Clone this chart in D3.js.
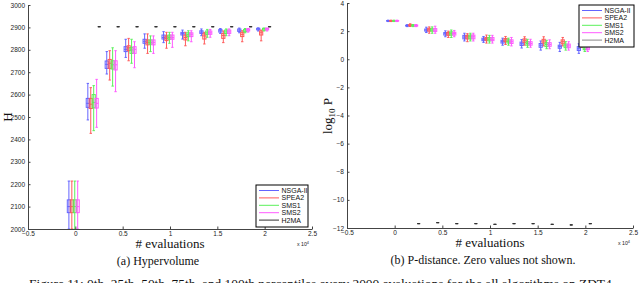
<!DOCTYPE html>
<html><head><meta charset="utf-8">
<script src="https://cdn.jsdelivr.net/npm/d3@7"></script>
<style>
html,body{margin:0;padding:0;background:#fff;}
svg{display:block;}
.tick text{font-family:"Liberation Sans",Arial,sans-serif;font-size:6.5px;fill:#222;}
.serif{font-family:"Liberation Serif","Times New Roman",serif;fill:#111;}
.leg{font-family:"Liberation Sans",Arial,sans-serif;font-size:7px;fill:#111;}
</style></head>
<body>
<svg id="c" width="640" height="283"></svg>
<script>
// ---------- data ----------
const evaluations = [0,2000,4000,6000,8000,10000,12000,14000,16000,18000,20000];
const h2maEvaluations = [2000,4000,6000,8000,10000,12000,14000,16000,18000,20000];
const algorithms = ["NSGA-II","SPEA2","SMS1","SMS2","H2MA"];
const algOffsets = [-680,-370,-60,250,520];
const xTicks = [-0.5,0,0.5,1,1.5,2,2.5];
const hvTicks = [2000,2100,2200,2300,2400,2500,2600,2700,2800,2900,3000];
const pdTicks = [-12,-10,-8,-6,-4,-2,0,2,4];

// five-number summaries [min, q1, median, q3, max]
const hvNSGA = [[2000,2073,2100,2130,2214],[2487,2543,2561,2583,2650],[2692,2717,2735,2750,2792],[2766,2792,2802,2814,2847],[2807,2829,2838,2847,2871],[2832,2848,2855,2866,2881],[2848,2866,2872,2878,2888],[2863,2873,2879,2885,2893],[2873,2879,2885,2891,2895],[2876,2882,2888,2893,2897],[2884,2889,2893,2896,2898]];
const hvSPEA2 = [[2000,2073,2100,2130,2214],[2427,2538,2557,2583,2631],[2665,2717,2740,2757,2796],[2751,2796,2809,2818,2851],[2784,2822,2833,2844,2871],[2807,2841,2851,2862,2878],[2818,2844,2855,2866,2878],[2826,2848,2862,2871,2878],[2832,2851,2864,2873,2884],[2836,2859,2869,2878,2885],[2840,2866,2876,2884,2888]];
const hvSMS1 = [[2000,2073,2100,2130,2214],[2439,2541,2565,2600,2640],[2638,2714,2733,2751,2809],[2740,2784,2799,2810,2847],[2792,2825,2833,2844,2862],[2829,2847,2855,2866,2878],[2840,2859,2869,2876,2885],[2856,2869,2876,2884,2891],[2863,2873,2880,2888,2893],[2876,2881,2888,2891,2895],[2884,2888,2893,2896,2897]];
const hvSMS2 = [[2000,2073,2100,2130,2214],[2454,2540,2561,2583,2668],[2613,2710,2733,2751,2796],[2720,2784,2802,2814,2836],[2784,2822,2833,2844,2862],[2811,2847,2855,2866,2878],[2836,2859,2869,2876,2885],[2856,2869,2876,2884,2891],[2863,2873,2880,2888,2893],[2879,2884,2889,2893,2895],[2884,2889,2893,2896,2897]];
const hvH2MA = [[2903,2903,2903,2903,2903],[2903,2903,2903,2903,2903],[2903,2903,2903,2903,2903],[2903,2903,2903,2903,2903],[2903,2903,2903,2903,2903],[2903,2903,2903,2903,2903],[2903,2903,2903,2903,2903],[2903,2903,2903,2903,2903],[2903,2903,2903,2903,2903],[2903,2903,2903,2903,2903]];

const pdNSGA = [[2.68,2.71,2.73,2.75,2.78],[2.32,2.36,2.39,2.42,2.46],[1.9,2.0,2.08,2.15,2.28],[1.6,1.72,1.82,1.9,2.02],[1.3,1.45,1.58,1.7,1.85],[1.2,1.32,1.42,1.5,1.62],[1.0,1.15,1.25,1.35,1.5],[0.8,0.98,1.1,1.22,1.4],[0.65,0.85,1.0,1.12,1.3],[0.55,0.78,0.9,1.0,1.2],[0.42,0.62,0.75,0.9,1.1]];
const pdSPEA2 = [[2.68,2.71,2.73,2.75,2.78],[2.33,2.38,2.42,2.46,2.52],[1.85,2.0,2.1,2.2,2.3],[1.55,1.7,1.8,1.9,2.0],[1.25,1.45,1.6,1.7,1.82],[1.15,1.35,1.45,1.55,1.72],[1.05,1.25,1.38,1.48,1.62],[1.0,1.2,1.35,1.45,1.6],[0.95,1.15,1.3,1.42,1.6],[0.95,1.1,1.25,1.38,1.55],[0.85,1.0,1.15,1.3,1.45]];
const pdSMS1 = [[2.68,2.71,2.73,2.75,2.78],[2.32,2.36,2.39,2.43,2.47],[1.85,2.0,2.08,2.17,2.3],[1.55,1.72,1.85,1.95,2.08],[1.3,1.45,1.6,1.72,1.85],[1.15,1.3,1.42,1.55,1.7],[1.0,1.15,1.25,1.38,1.5],[0.85,1.0,1.12,1.25,1.42],[0.75,0.9,1.05,1.18,1.35],[0.65,0.82,0.95,1.08,1.25],[0.55,0.68,0.8,0.92,1.1]];
const pdSMS2 = [[2.68,2.71,2.73,2.75,2.78],[2.32,2.36,2.39,2.43,2.47],[1.85,1.98,2.07,2.18,2.35],[1.6,1.72,1.83,1.92,2.05],[1.3,1.45,1.6,1.72,1.85],[1.15,1.32,1.42,1.55,1.7],[0.95,1.12,1.25,1.38,1.55],[0.85,1.0,1.12,1.25,1.42],[0.75,0.92,1.05,1.18,1.38],[0.65,0.82,0.95,1.08,1.25],[0.55,0.68,0.8,0.92,1.1]];
const pdH2MA = [[-11.69,-11.69,-11.69,-11.69,-11.69],[-11.62,-11.62,-11.62,-11.62,-11.62],[-11.69,-11.69,-11.69,-11.69,-11.69],[-11.69,-11.69,-11.69,-11.69,-11.69],[-11.74,-11.74,-11.74,-11.74,-11.74],[-11.69,-11.69,-11.69,-11.69,-11.69],[-11.69,-11.69,-11.69,-11.69,-11.69],[-11.74,-11.74,-11.74,-11.74,-11.74],[-11.78,-11.78,-11.78,-11.78,-11.78],[-11.69,-11.69,-11.69,-11.69,-11.69]];

const colors = ["#6464ff","#ff5a5a","#5af05a","#ff5aff","#333333"];

// ---------- drawing ----------
const svg = d3.select("#c");
const fmt = d3.format("~g");

function panel(cfg){
  const x = d3.scaleLinear().domain([-0.5,2.5]).range(cfg.xr);
  const y = d3.scaleLinear().domain(cfg.yd).range(cfg.yr);
  const g = svg.append("g");

  // boxes
  cfg.series.forEach((ser,a)=>{
    const ev = a===4 ? h2maEvaluations : evaluations;
    const col = colors[a];
    const gg = g.append("g").attr("stroke",col).attr("fill","none").attr("stroke-width",1);
    ser.forEach((s,i)=>{
      const cx = x((ev[i]+algOffsets[a])/1e4);
      gg.append("line").attr("x1",cx).attr("x2",cx).attr("y1",y(s[0])).attr("y2",y(s[4]));
      gg.append("line").attr("x1",cx-1.2).attr("x2",cx+1.2).attr("y1",y(s[0])).attr("y2",y(s[0]));
      gg.append("line").attr("x1",cx-1.2).attr("x2",cx+1.2).attr("y1",y(s[4])).attr("y2",y(s[4]));
      gg.append("rect").attr("x",cx-1.6).attr("width",3.2).attr("y",y(s[3])).attr("height",Math.max(0,y(s[1])-y(s[3])));
      gg.append("line").attr("x1",cx-1.6).attr("x2",cx+1.6).attr("y1",y(s[2])).attr("y2",y(s[2]));
    });
  });

  // axes
  const xa = g.append("g").attr("transform",`translate(0,${cfg.yr[0]})`)
    .call(d3.axisBottom(x).tickValues(xTicks).tickFormat(fmt).tickSizeInner(-2.5).tickSizeOuter(0).tickPadding(2));
  const ya = g.append("g").attr("transform",`translate(${cfg.xr[0]},0)`)
    .call(d3.axisLeft(y).tickValues(cfg.yt).tickFormat(fmt).tickSizeInner(-2.5).tickSizeOuter(0).tickPadding(3));
  [xa,ya].forEach(ax=>{ax.select(".domain").attr("stroke","#444");ax.selectAll(".tick line").attr("stroke","#444");});

  // x10^4
  const t = g.append("text").attr("x",cfg.xr[1]-15).attr("y",cfg.yr[0]+17)
    .attr("font-family","Liberation Sans,Arial,sans-serif").attr("font-size","5.2px").attr("fill","#222");
  t.append("tspan").text("x 10");
  t.append("tspan").attr("dy",-2).attr("font-size","3.8px").text("4");

  // x label
  g.append("text").attr("class","serif").attr("x",(cfg.xr[0]+cfg.xr[1])/2).attr("y",cfg.yr[0]+19)
    .attr("text-anchor","middle").attr("font-size","13px").text("# evaluations");
  // sub caption
  g.append("text").attr("class","serif").attr("x",cfg.capX).attr("y",cfg.yr[0]+36)
    .attr("text-anchor","middle").attr("font-size","12px").text(cfg.caption);

  // legend
  const lg = g.append("g").attr("transform",`translate(${cfg.leg[0]},${cfg.leg[1]})`);
  lg.append("rect").attr("width",cfg.leg[2]).attr("height",cfg.leg[3]).attr("fill","#fff").attr("stroke","#000").attr("stroke-width",1);
  algorithms.forEach((name,a)=>{
    const yy = 5.5 + a*7.4;
    lg.append("line").attr("x1",3).attr("x2",23).attr("y1",yy).attr("y2",yy).attr("stroke",a===4&&cfg.grayH?"#888":colors[a]).attr("stroke-width",1);
    lg.append("text").attr("class","leg").attr("x",25.5).attr("y",yy).attr("dy","0.35em").text(name);
  });
  return g;
}

panel({xr:[28,312], yd:[2000,3000], yr:[229,5], yt:hvTicks,
  series:[hvNSGA,hvSPEA2,hvSMS1,hvSMS2,hvH2MA],
  caption:"(a) Hypervolume", capX:158, leg:[256,185,52,42], grayH:false});
panel({xr:[347,633], yd:[-12,4], yr:[228,3], yt:pdTicks,
  series:[pdNSGA,pdSPEA2,pdSMS1,pdSMS2,pdH2MA],
  caption:"(b) P-distance. Zero values not shown.", capX:483, leg:[579,5,55,42], grayH:true});

// y labels
svg.append("text").attr("class","serif").attr("transform","translate(11.5,117) rotate(-90)")
  .attr("text-anchor","middle").attr("font-size","13px").text("H");
const yl = svg.append("text").attr("class","serif").attr("transform","translate(332,116) rotate(-90)")
  .attr("text-anchor","middle").attr("font-size","13px");
yl.append("tspan").text("log");
yl.append("tspan").attr("font-size","9px").attr("dy",3).text("10");
yl.append("tspan").attr("dy",-3).text(" P");

// figure caption
svg.append("text").attr("class","serif").attr("x",29).attr("y",288).attr("font-size","13.4px")
  .attr("textLength",586).attr("lengthAdjust","spacing")
  .text("Figure 11: 0th, 25th, 50th, 75th, and 100th percentiles every 2000 evaluations for the all algorithms on ZDT4.");
</script>
</body></html>
